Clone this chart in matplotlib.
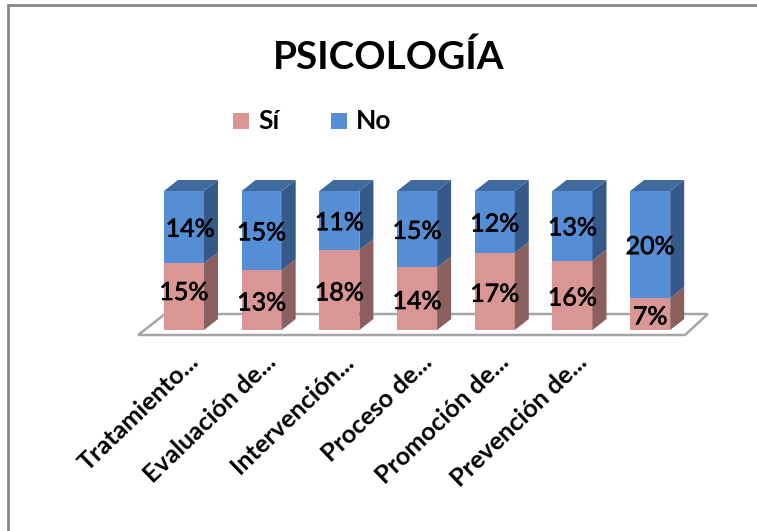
"""Psicología: 3D-looking 100% stacked columns, drawn in plain matplotlib."""
import matplotlib
matplotlib.use('Agg')
import matplotlib.pyplot as plt
import matplotlib.patheffects as pe
from matplotlib.patches import Polygon, Rectangle
from matplotlib.transforms import ScaledTranslation

categories = ['Tratamiento...', 'Evaluación de...', 'Intervención...', 'Proceso de...',
              'Promoción de...', 'Prevención de...', '']
si_labels = ['15%', '13%', '18%', '14%', '17%', '16%', '7%']
no_labels = ['14%', '15%', '11%', '15%', '12%', '13%', '20%']
# height of the Sí part as share of the full column
si_share = [48, 43, 57.5, 45, 55.5, 50, 23]
no_share = [52, 57, 42.5, 55, 44.5, 50, 77]

W, H = 757, 531
SI_FRONT, SI_SIDE = '#D99694', '#8B5F5E'
NO_FRONT, NO_SIDE, NO_TOP = '#558ED5', '#355A8A', '#3E6A9E'
BAR_WIDTH = 0.515
DX, DY = 0.18, 7.9  # depth of the columns in data units

plt.rcParams['font.family'] = ['Lato', 'DejaVu Sans']

fig = plt.figure(figsize=(W / 100, H / 100), dpi=100)

# axes placed so that category 0 sits at px 184 and 0-100% spans px 330-191
step, x0, y0, y100 = 77.7, 184, 330, 191
left, right, top, bottom = 120, 720, 170, 345
ax = fig.add_axes([left / W, 1 - bottom / H, (right - left) / W, (bottom - top) / H])
ax.set_xlim((left - x0) / step, (right - x0) / step)
ax.set_ylim((y0 - bottom) / (y0 - y100) * 100, (y0 - top) / (y0 - y100) * 100)
ax.patch.set_alpha(0)
for spine in ax.spines.values():
    spine.set_visible(False)
ax.set_yticks([])

n = len(categories)
floor = [(-0.59, -3.6), (-0.245, 11.5), (n - 1 + 0.74, 11.5), (n - 1 + 0.45, -3.6)]
ax.add_patch(Polygon(floor, closed=True, facecolor='white', edgecolor='#A6A6A6', lw=1.8, zorder=1))

# Lato has no semi-bold here, a thin stroke gets close to the original weight
heavy = [pe.withStroke(linewidth=0.5, foreground='black')]


def draw_segment(x, low, high, front, side):
    """One block of a column: front face plus its right side."""
    ax.bar(x, high - low, BAR_WIDTH, bottom=low, color=front, zorder=3)
    xr = x + BAR_WIDTH / 2
    ax.add_patch(Polygon([(xr, low), (xr + DX, low + DY), (xr + DX, high + DY), (xr, high)],
                         closed=True, facecolor=side, edgecolor='none', zorder=3))


for i in range(n):
    x = i
    split = si_share[i]
    end = split + no_share[i]
    draw_segment(x, 0, split, SI_FRONT, SI_SIDE)
    draw_segment(x, split, end, NO_FRONT, NO_SIDE)
    xl, xr = x - BAR_WIDTH / 2, x + BAR_WIDTH / 2
    ax.add_patch(Polygon([(xl, end), (xl + DX, end + DY), (xr + DX, end + DY), (xr, end)],
                         closed=True, facecolor=NO_TOP, edgecolor='none', zorder=3))
    # labels sit mid-segment, the first column's pair is nudged in the original
    dx_no = 0.08 if i == 0 else 0
    dy_si = 3 if i == 0 else -2
    ax.annotate(si_labels[i], (x, split / 2), xytext=(0, dy_si), textcoords='offset points',
                ha='center', va='center', fontsize=18, color='black', zorder=5, path_effects=heavy)
    ax.annotate(no_labels[i], (x + dx_no, split + no_share[i] / 2), xytext=(0, -1.5),
                textcoords='offset points', ha='center', va='center', fontsize=18,
                color='black', zorder=5, path_effects=heavy)

ax.set_xticks(range(n))
ax.set_xticklabels(categories, rotation=44, ha='right', va='top', rotation_mode='anchor',
                   fontsize=18.2, fontweight='bold')
ax.tick_params(axis='x', length=0, pad=3.5)
shift = ScaledTranslation(3 / 100, 0, fig.dpi_scale_trans)
for lab in ax.get_xticklabels():
    lab.set_transform(lab.get_transform() + shift)

fig.text(389 / W, 1 - 57 / H, 'PSICOLOGÍA', ha='center', va='center', fontsize=27.8, fontweight='bold')

# legend, placed by hand like the original
for label, color, px in [('Sí', SI_FRONT, 233), ('No', NO_FRONT, 331)]:
    fig.add_artist(Rectangle((px / W, 1 - 129 / H), 16 / W, 16 / H, transform=fig.transFigure,
                             facecolor=color, edgecolor='none'))
    fig.text((px + 25) / W, 1 - 121 / H, label, ha='left', va='center', fontsize=19, fontweight='bold')

# outer chart frame
fig.add_artist(Rectangle((8 / W, -0.02), 1.02, 1 - 5 / H + 0.02, transform=fig.transFigure,
                         facecolor='none', edgecolor='#868686', lw=2))

fig.savefig('out.png', dpi=100)
